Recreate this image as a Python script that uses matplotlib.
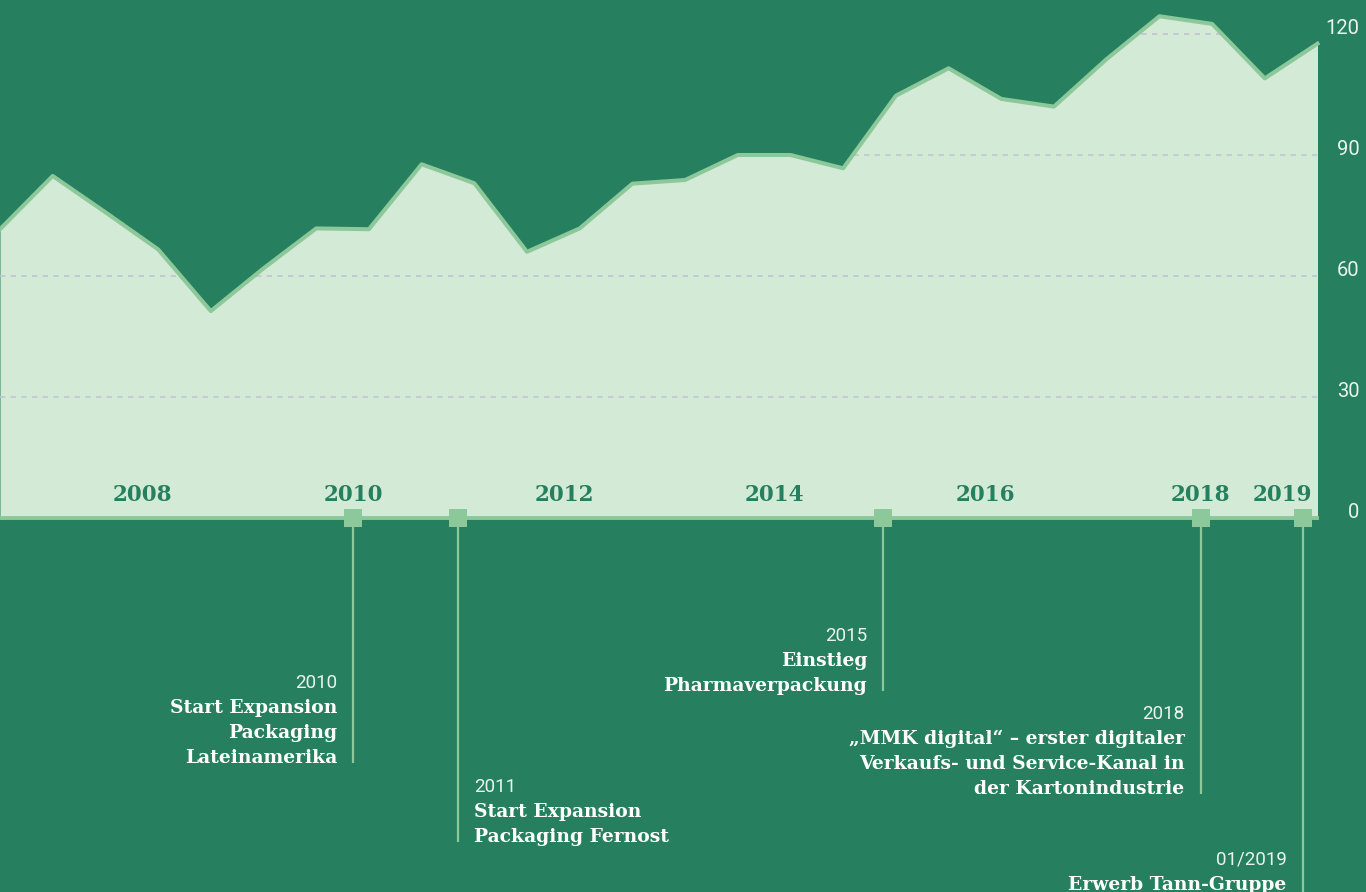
import matplotlib
matplotlib.use("Agg")
import matplotlib.pyplot as plt

# ---------------- data ----------------
periods = [2006.65, 2007.15, 2007.65, 2008.15, 2008.65, 2009.15, 2009.65, 2010.15,
           2010.65, 2011.15, 2011.65, 2012.15, 2012.65, 2013.15, 2013.65, 2014.15,
           2014.65, 2015.15, 2015.65, 2016.15, 2016.65, 2017.15, 2017.65, 2018.15,
           2018.65, 2019.15]
values = [71.6, 84.8, 75.8, 66.6, 51.3, 61.9, 71.8, 71.6, 87.7, 83.0, 66.0, 71.8,
          82.9, 83.8, 90.0, 90.0, 86.7, 104.7, 111.5, 103.9, 102.0, 113.8, 124.4,
          122.5, 109.0, 117.6]

y_ticks = [0, 30, 60, 90, 120]
year_labels = ["2008", "2010", "2012", "2014", "2016", "2018", "2019"]
year_label_pos = [2008.0, 2010.0, 2012.0, 2014.0, 2016.0, 2018.04, 2019.0]

milestones = [2010.0, 2011.0, 2015.03, 2018.04, 2019.01]
milestone_dates = ["2010", "2011", "2015", "2018", "01/2019"]
milestone_texts = [
    ["Start Expansion", "Packaging", "Lateinamerika"],
    ["Start Expansion", "Packaging Fernost"],
    ["Einstieg", "Pharmaverpackung"],
    ["\u201eMMK digital\u201c \u2013 erster digitaler",
     "Verkaufs- und Service-Kanal in", "der Kartonindustrie"],
    ["Erwerb Tann-Gruppe"],
]

# ---------------- layout / style ----------------
BG = "#26805F"
FILL = "#D3EAD6"
LINE = "#8DC89A"
GRID = "#C0C4CF"
LIGHT_TXT = "#EAF4EC"

W, H = 1366, 892
PX_PER_YEAR = 105.4
Y0_PX = 518
PX_PER_UNIT = (518 - 34) / 120.0

text_side = ["left", "right", "left", "left", "left"]
block_end_px = [763, 842, 691, 794, 890]
line_end_px = [763, 842, 691, 794, 905]
LINE_SPACING_PX = 25
TEXT_GAP_PX = 16

SERIF = ["DejaVu Serif Condensed", "DejaVu Serif"]


def py2y(py):
    return (Y0_PX - py) / PX_PER_UNIT


def px2x(px):
    return px / PX_PER_YEAR


fig = plt.figure(figsize=(W / 100, H / 100), dpi=100, facecolor=BG)
ax = fig.add_axes([0, 0, 1, 1])
ax.set_axis_off()
x0 = periods[0]
ax.set_xlim(x0, x0 + W / PX_PER_YEAR)
ax.set_ylim(py2y(H), py2y(0))

# area
fill = ax.fill_between(periods, values, 0, color=FILL, lw=0, zorder=1)
ax.plot(periods, values, color=LINE, lw=2.9, zorder=3, solid_joinstyle="round")
ax.plot([periods[0], periods[-1]], [0, 0], color=LINE, lw=2.8, zorder=3)

# gridlines clipped to the area
clip = fill.get_paths()[0]
for v in y_ticks[1:]:
    ln, = ax.plot([periods[0], periods[-1]], [v, v], color=GRID, lw=1.2,
                  ls=(0, (3.2, 3.2)), zorder=2)
    ln.set_clip_path(clip, ax.transData)

# y tick labels on the right
for v in y_ticks:
    ax.text(periods[-1] + px2x(42), v, str(v), ha="right", va="baseline",
            color=LIGHT_TXT, fontsize=14.5, family="Roboto", fontweight="normal",
            zorder=5)

# year labels inside the area
for lbl, pos in zip(year_labels, year_label_pos):
    if lbl == "2019":
        ax.text(periods[-1] - px2x(5), py2y(501), lbl, ha="right", va="baseline",
                color=BG, fontsize=15.5, family=SERIF, fontweight="bold", zorder=5)
    else:
        ax.text(pos, py2y(501), lbl, ha="center", va="baseline", color=BG,
                fontsize=15.5, family=SERIF, fontweight="bold", zorder=5)

# milestones
for m, date, lines, side, bend, lend in zip(milestones, milestone_dates,
                                            milestone_texts, text_side,
                                            block_end_px, line_end_px):
    ax.plot([m, m], [0, py2y(lend)], color=LINE, lw=1.6, zorder=4,
            solid_capstyle="butt")
    ax.plot([m], [0], marker="s", ms=13, color=LINE, mew=0, zorder=6)
    all_lines = [date] + lines
    n = len(all_lines)
    if side == "left":
        tx, ha = m - px2x(TEXT_GAP_PX), "right"
    else:
        tx, ha = m + px2x(TEXT_GAP_PX), "left"
    for j, s in enumerate(all_lines):
        ty = py2y(bend - (n - 1 - j) * LINE_SPACING_PX)
        if j == 0:
            ax.text(tx, ty, s, ha=ha, va="baseline", color=LIGHT_TXT,
                    fontsize=13.5, family="Roboto", fontweight="normal", zorder=5)
        else:
            ax.text(tx, ty, s, ha=ha, va="baseline", color="white",
                    fontsize=13.5, family=SERIF, fontweight="bold", zorder=5)

fig.savefig("out.png", dpi=100, facecolor=BG)
